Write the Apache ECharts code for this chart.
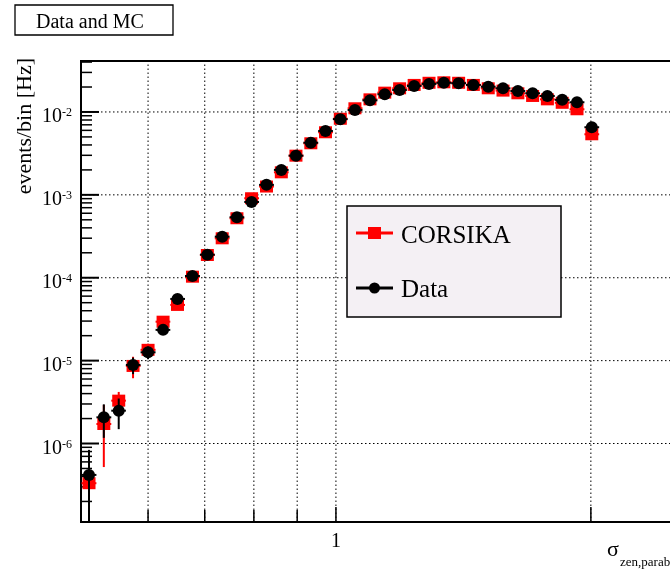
<!DOCTYPE html>
<html>
<head>
<meta charset="utf-8">
<script src="https://cdn.jsdelivr.net/npm/echarts@6/dist/echarts.min.js"></script>
<style>
  html, body { margin: 0; padding: 0; background: #fff; }
  #chart { width: 670px; height: 571px; }
</style>
</head>
<body>
<div id="chart"></div>
<script>
// Bin centres of sigma_zen,parab (logarithmic binning)
const sigmaBins = [0.511, 0.532, 0.554, 0.576, 0.600, 0.625, 0.650, 0.677, 0.705, 0.734,
                   0.764, 0.795, 0.828, 0.862, 0.897, 0.934, 0.972, 1.012, 1.053, 1.097,
                   1.142, 1.189, 1.237, 1.288, 1.341, 1.396, 1.453, 1.513, 1.575, 1.640,
                   1.707, 1.777, 1.850, 1.926, 2.005];

// Measured rate per bin [Hz] and its uncertainty
const dataRates = [4.18e-7, 2.07e-6, 2.49e-6, 8.87e-6, 1.26e-5, 2.35e-5, 5.55e-5, 1.05e-4, 1.90e-4, 3.13e-4,
                   5.37e-4, 8.21e-4, 1.32e-3, 2.00e-3, 2.97e-3, 4.26e-3, 5.90e-3, 8.19e-3, 1.057e-2, 1.38e-2,
                   1.635e-2, 1.84e-2, 2.06e-2, 2.18e-2, 2.25e-2, 2.22e-2, 2.12e-2, 2.02e-2, 1.93e-2, 1.79e-2,
                   1.68e-2, 1.56e-2, 1.40e-2, 1.31e-2, 6.54e-3];
const dataErrors = [4.2e-7, 9.0e-7, 1.0e-6, 2.0e-6, 2.2e-6, 3.0e-6, 4.6e-6, 6.4e-6, 8.6e-6, 1.1e-5,
                    1.45e-5, 1.8e-5, 2.3e-5, 2.8e-5, 3.4e-5, 4.1e-5, 4.8e-5, 5.7e-5, 6.4e-5, 7.3e-5,
                    8.0e-5, 8.5e-5, 9.0e-5, 9.2e-5, 9.4e-5, 9.3e-5, 9.1e-5, 8.9e-5, 8.7e-5, 8.4e-5,
                    8.1e-5, 7.8e-5, 7.4e-5, 7.1e-5, 5.0e-5];

// CORSIKA simulation rate per bin [Hz] and its uncertainty
const corsikaRates = [3.32e-7, 1.72e-6, 3.29e-6, 8.63e-6, 1.35e-5, 2.95e-5, 4.70e-5, 1.03e-4, 1.88e-4, 2.99e-4,
                      5.22e-4, 9.10e-4, 1.26e-3, 1.87e-3, 2.97e-3, 4.19e-3, 5.69e-3, 8.28e-3, 1.108e-2, 1.42e-2,
                      1.71e-2, 1.93e-2, 2.12e-2, 2.25e-2, 2.28e-2, 2.25e-2, 2.12e-2, 1.93e-2, 1.81e-2, 1.68e-2,
                      1.56e-2, 1.42e-2, 1.29e-2, 1.078e-2, 5.38e-3];
const corsikaErrors = [3.0e-7, 1.2e-6, 9.0e-7, 2.5e-6, 2.5e-6, 3.2e-6, 4.0e-6, 5.5e-6, 7.0e-6, 9.0e-6,
                       1.2e-5, 1.6e-5, 2.0e-5, 2.5e-5, 3.0e-5, 3.6e-5, 4.3e-5, 5.0e-5, 6.0e-5, 6.8e-5,
                       7.4e-5, 7.9e-5, 8.3e-5, 8.5e-5, 8.6e-5, 8.5e-5, 8.3e-5, 7.9e-5, 7.7e-5, 7.4e-5,
                       7.1e-5, 6.8e-5, 6.4e-5, 5.9e-5, 4.1e-5];

// Axis ranges, grid line positions and labelled ticks
const xRange = [0.5, 3];
const yRange = [1.13e-7, 0.0412];
const xGridValues = [0.6, 0.7, 0.8, 0.9, 1, 2, 3];
const xLabelValues = [1];
const yGridValues = [1e-6, 1e-5, 1e-4, 1e-3, 1e-2];

const SERIF = '"Liberation Serif", "DejaVu Serif", serif';

// minor ticks at 2..9 x 10^n inside the y range
const yMinorValues = [];
for (let p = -7; p <= -2; p++) {
  for (let m = 2; m <= 9; m++) {
    const v = m * Math.pow(10, p);
    if (v > yRange[0] && v < yRange[1]) yMinorValues.push(v);
  }
}

function errorBarSeries(name, xs, ys, errs, color, z) {
  return {
    type: 'custom',
    name: name + ' errors',
    z: z,
    silent: true,
    clip: true,
    data: xs.map((x, i) => [x, ys[i], errs[i], i]),
    renderItem: function (params, api) {
      const x = api.value(0), y = api.value(1), e = api.value(2), i = api.value(3);
      const low = (y - e) > yRange[0] ? (y - e) : yRange[0] * 0.5;
      const top = api.coord([x, y + e]);
      const bot = api.coord([x, low]);
      // bin edges sit halfway (in log) between neighbouring centres
      const prev = i > 0 ? xs[i - 1] : xs[0] * xs[0] / xs[1];
      const next = i < xs.length - 1 ? xs[i + 1] : xs[i] * xs[i] / xs[i - 1];
      const left = api.coord([Math.sqrt(prev * x), y]);
      const right = api.coord([Math.sqrt(next * x), y]);
      return {
        type: 'group',
        children: [
          { type: 'line', shape: { x1: top[0], y1: top[1], x2: bot[0], y2: bot[1] },
            style: { stroke: color, lineWidth: 2 } },
          { type: 'line', shape: { x1: left[0], y1: left[1], x2: right[0], y2: right[1] },
            style: { stroke: color, lineWidth: 2 } }
        ]
      };
    }
  };
}

const chart = echarts.init(document.getElementById('chart'), null, { renderer: 'canvas' });

chart.setOption({
  animation: false,
  backgroundColor: '#ffffff',
  grid: {
    left: 81, top: 61, width: 659, height: 461,
    outerBoundsMode: 'none',
    containLabel: false,
    show: true, borderColor: '#000', borderWidth: 2, backgroundColor: 'transparent'
  },
  xAxis: {
    type: 'log', logBase: 10, min: xRange[0], max: xRange[1],
    axisLine: { show: true, lineStyle: { color: '#000', width: 2 } },
    axisTick: { show: false },
    splitLine: { show: false },
    minorTick: { show: false },
    axisLabel: {
      show: true, margin: 10, color: '#000', fontFamily: SERIF, fontSize: 20,
      showMinLabel: false, showMaxLabel: false,
      formatter: function (v) {
        return xLabelValues.some(t => Math.abs(v - t) < 1e-6) ? String(Math.round(v)) : '';
      }
    }
  },
  yAxis: {
    type: 'log', logBase: 10, min: yRange[0], max: yRange[1],
    axisLine: { show: true, lineStyle: { color: '#000', width: 2 } },
    axisTick: { show: false },
    splitLine: { show: false },
    minorTick: { show: false },
    axisLabel: {
      show: true, margin: 9, color: '#000', fontFamily: SERIF,
      showMinLabel: false, showMaxLabel: false,
      padding: [10, 0, 0, 0],
      formatter: function (v) {
        const p = Math.round(Math.log10(v));
        return '{b|10}{s|' + p + '}';
      },
      rich: {
        b: { fontSize: 20, fontFamily: SERIF, color: '#000', lineHeight: 20, verticalAlign: 'bottom' },
        s: { fontSize: 12, fontFamily: SERIF, color: '#000', lineHeight: 10, verticalAlign: 'top' }
      }
    }
  },
  series: [
    // vertical dotted grid lines and x ticks
    {
      type: 'custom', z: 1, silent: true, clip: true,
      data: xGridValues.map(v => [v, yRange[0]]),
      renderItem: function (params, api) {
        const v = api.value(0);
        const b = api.coord([v, yRange[0]]);
        const t = api.coord([v, yRange[1]]);
        const len = v >= 1 ? 15 : 12;
        return {
          type: 'group',
          children: [
            { type: 'line', shape: { x1: b[0], y1: b[1], x2: t[0], y2: t[1] },
              style: { stroke: '#000', lineWidth: 1, lineDash: [1.5, 2.5] } },
            { type: 'line', shape: { x1: b[0], y1: b[1], x2: b[0], y2: b[1] - len },
              style: { stroke: '#000', lineWidth: 1.5 } }
          ]
        };
      }
    },
    // horizontal dotted grid lines and major y ticks
    {
      type: 'custom', z: 1, silent: true, clip: true,
      data: yGridValues.map(v => [xRange[0], v]),
      renderItem: function (params, api) {
        const v = api.value(1);
        const l = api.coord([xRange[0], v]);
        const r = api.coord([xRange[1], v]);
        return {
          type: 'group',
          children: [
            { type: 'line', shape: { x1: l[0], y1: l[1], x2: r[0], y2: r[1] },
              style: { stroke: '#000', lineWidth: 1, lineDash: [1.5, 2.5] } },
            { type: 'line', shape: { x1: l[0], y1: l[1], x2: l[0] + 18, y2: l[1] },
              style: { stroke: '#000', lineWidth: 2 } }
          ]
        };
      }
    },
    // minor y ticks
    {
      type: 'custom', z: 1, silent: true, clip: true,
      data: yMinorValues.map(v => [xRange[0], v]),
      renderItem: function (params, api) {
        const l = api.coord([xRange[0], api.value(1)]);
        return { type: 'line', shape: { x1: l[0], y1: l[1], x2: l[0] + 11, y2: l[1] },
                 style: { stroke: '#000', lineWidth: 1.5 } };
      }
    },
    errorBarSeries('CORSIKA', sigmaBins, corsikaRates, corsikaErrors, '#ff0000', 2),
    {
      type: 'scatter', name: 'CORSIKA', z: 3, silent: true,
      symbol: 'rect', symbolSize: [13, 12],
      itemStyle: { color: '#ff0000', opacity: 1 },
      data: sigmaBins.map((x, i) => [x, corsikaRates[i]])
    },
    errorBarSeries('Data', sigmaBins, dataRates, dataErrors, '#000000', 4),
    {
      type: 'scatter', name: 'Data', z: 5, silent: true,
      symbol: 'circle', symbolSize: 12,
      itemStyle: { color: '#000000', opacity: 1 },
      data: sigmaBins.map((x, i) => [x, dataRates[i]])
    }
  ],
  graphic: [
    // title box
    { type: 'rect', shape: { x: 15, y: 5, width: 158, height: 30 },
      style: { fill: '#fff', stroke: '#000', lineWidth: 1.3 }, z: 10 },
    { type: 'text', x: 36, y: 22.5, z: 11,
      style: { text: 'Data and MC', font: '20px ' + SERIF, fill: '#000', align: 'left', verticalAlign: 'middle' } },
    // y axis title
    { type: 'text', x: 25, y: 58, rotation: Math.PI / 2, z: 11,
      style: { text: 'events/bin [Hz]', font: '22px ' + SERIF, fill: '#000', align: 'right', verticalAlign: 'middle' } },
    // x axis title
    { type: 'text', x: 607, y: 550.5, z: 11,
      style: { text: 'σ', font: '22px ' + SERIF, fill: '#000', align: 'left', verticalAlign: 'middle' } },
    { type: 'text', x: 620, y: 562.6, z: 11,
      style: { text: 'zen,parab', font: '13px ' + SERIF, fill: '#000', align: 'left', verticalAlign: 'middle' } },
    // legend
    { type: 'rect', shape: { x: 347, y: 206, width: 214, height: 111 },
      style: { fill: '#f4f0f4', stroke: '#000', lineWidth: 1.5 }, z: 20 },
    { type: 'line', shape: { x1: 356, y1: 233, x2: 393, y2: 233 },
      style: { stroke: '#ff0000', lineWidth: 3 }, z: 21 },
    { type: 'rect', shape: { x: 368, y: 227, width: 13, height: 12 },
      style: { fill: '#ff0000' }, z: 22 },
    { type: 'text', x: 401, y: 236, z: 22,
      style: { text: 'CORSIKA', font: '25px ' + SERIF, fill: '#000', align: 'left', verticalAlign: 'middle' } },
    { type: 'line', shape: { x1: 356, y1: 288, x2: 393, y2: 288 },
      style: { stroke: '#000', lineWidth: 3 }, z: 21 },
    { type: 'circle', shape: { cx: 374.5, cy: 288, r: 5.5 },
      style: { fill: '#000' }, z: 22 },
    { type: 'text', x: 401, y: 290, z: 22,
      style: { text: 'Data', font: '25px ' + SERIF, fill: '#000', align: 'left', verticalAlign: 'middle' } }
  ]
});
</script>
</body>
</html>
